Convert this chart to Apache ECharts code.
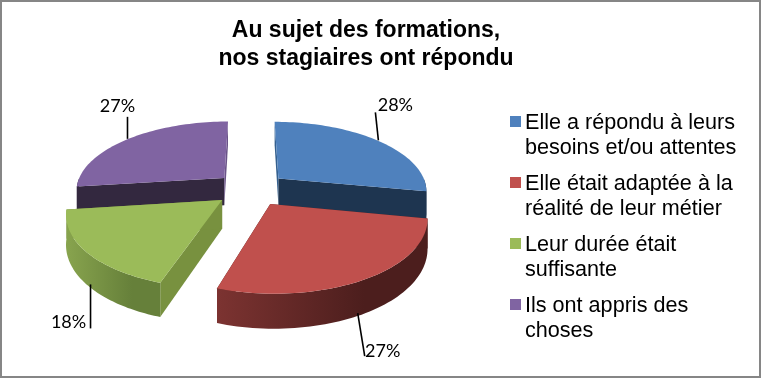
<!DOCTYPE html>
<html lang="fr">
<head>
    <meta charset="UTF-8">
    <title>Au sujet des formations</title>
    <script src="https://cdn.jsdelivr.net/npm/echarts@6/dist/echarts.min.js"></script>
    <style>
        html, body { margin: 0; padding: 0; background: #fff; }
        #chart { width: 761px; height: 378px; }
    </style>
</head>
<body>
<div id="chart"></div>
<script>
    var chartTitle = "Au sujet des formations,\nnos stagiaires ont répondu";
    var categories = [
        "Elle a répondu à leurs\nbesoins et/ou attentes",
        "Elle était adaptée à la\nréalité de leur métier",
        "Leur durée était\nsuffisante",
        "Ils ont appris des\nchoses"
    ];
    var values = [28, 27, 18, 27];

    var topColors = ["#4f81bd", "#c0504d", "#9bbb59", "#8064a2"];
    // cut faces of each slice: start edge, end edge
    var faceColors = [
        ["#34608f", "#1e3550"],
        ["#4e1f1e", "#4e1f1e"],
        ["#78913f", "#78913f"],
        ["#33283f", "#6a5388"]
    ];
    var wallColors = [
        ["#1e3550", "#1e3550"],
        ["#7c3331", "#4c1e1d"],
        ["#88a44e", "#66803a"],
        ["#33283f", "#33283f"]
    ];
    // back slices first, the front ones cover them
    var sliceZ = [2, 4, 3, 1];
    // leader line from the rim: start shift, then line vector
    var leaderStart = [[1, 0], [-8, 0], [4, 0], [-1, 0]];
    var leaderVec = [[-3, -28], [7, 43], [0, 44], [0, -22]];
    var labelShift = [[20, -7], [18, -5], [-22, -6], [-10, -11]];

    // 3d look: ground plane seen in perspective
    var view = { cx: 251, cy: 189, fx: 149, fy: 69.2, k: 0.165, depth: 28, explode: 0.245 };

    function project(wx, wz, down) {
        var s = 1 / (1 - view.k * wz);
        return [view.cx + view.fx * wx * s, view.cy + view.fy * wz * s + (down ? view.depth * s : 0)];
    }

    function sliceRange(i) {
        var total = values.reduce(function (a, b) { return a + b; }, 0);
        var before = values.slice(0, i).reduce(function (a, b) { return a + b; }, 0);
        return [before / total * Math.PI * 2, (before + values[i]) / total * Math.PI * 2];
    }

    function renderSlice(i) {
        var r = sliceRange(i);
        var mid = (r[0] + r[1]) / 2;
        var ox = view.explode * Math.sin(mid);
        var oz = -view.explode * Math.cos(mid);
        function rim(a, down) {
            return project(ox + Math.sin(a), oz - Math.cos(a), down);
        }
        var apexTop = project(ox, oz, false);
        var apexLow = project(ox, oz, true);
        var arcTop = [];
        for (var n = 0; n <= 60; n++) {
            arcTop.push(rim(r[0] + (r[1] - r[0]) * n / 60, false));
        }
        var children = [
            { type: "polygon", shape: { points: [apexTop, arcTop[0], rim(r[0], true), apexLow] }, style: { fill: faceColors[i][0] } },
            { type: "polygon", shape: { points: [apexTop, arcTop[60], rim(r[1], true), apexLow] }, style: { fill: faceColors[i][1] } }
        ];

        // outer wall only where the rim turns to the viewer
        var wa = Math.max(r[0], Math.PI / 2);
        var wb = Math.min(r[1], Math.PI * 1.5);
        if (wb > wa) {
            var wallTop = [], wallLow = [];
            for (var m = 0; m <= 60; m++) {
                var a = wa + (wb - wa) * m / 60;
                wallTop.push(rim(a, false));
                wallLow.push(rim(a, true));
            }
            var xs = wallLow.map(function (p) { return p[0]; });
            var wall = new echarts.graphic.LinearGradient(Math.min.apply(null, xs), 0, Math.max.apply(null, xs), 0, [
                { offset: 0, color: wallColors[i][0] },
                { offset: 0.7, color: wallColors[i][1] },
                { offset: 1, color: wallColors[i][1] }
            ], true);
            children.push({ type: "polygon", shape: { points: wallTop.concat(wallLow.reverse()) }, style: { fill: wall } });
        }
        children.push({ type: "polygon", shape: { points: [apexTop].concat(arcTop) }, style: { fill: topColors[i] } });

        // leader line starts on the rim at the middle of the slice
        var anchor = rim(mid, Math.cos(mid) < 0);
        var p0 = [anchor[0] + leaderStart[i][0], anchor[1] + leaderStart[i][1]];
        var p1 = [p0[0] + leaderVec[i][0], p0[1] + leaderVec[i][1]];
        children.push({ type: "line", shape: { x1: p0[0], y1: p0[1], x2: p1[0], y2: p1[1] }, style: { stroke: "#000", lineWidth: 1.6 } });
        children.push({
            type: "text",
            style: {
                x: p1[0] + labelShift[i][0],
                y: p1[1] + labelShift[i][1],
                text: values[i] + "%",
                fill: "#000",
                font: '18px Lato',
                align: "center",
                verticalAlign: "middle"
            }
        });
        return { type: "group", children: children };
    }

    var series = [];
    categories.forEach(function (name, i) {
        series.push({
            name: name,
            type: "custom",
            coordinateSystem: "none",
            z: sliceZ[i],
            silent: true,
            clip: false,
            itemStyle: { color: topColors[i] },
            data: [values[i]],
            renderItem: function () { return renderSlice(i); }
        });
    });

    var ct = echarts.init(document.getElementById("chart"), null, { renderer: "canvas" });
    ct.setOption({
        animation: false,
        backgroundColor: "#fff",
        color: topColors,
        title: {
            text: chartTitle,
            left: 366,
            top: 17,
            padding: 0,
            textAlign: "center",
            textStyle: {
                fontFamily: "Liberation Sans",
                fontSize: 23,
                fontWeight: "bold",
                color: "#000",
                lineHeight: 28
            }
        },
        legend: {
            orient: "vertical",
            left: 510,
            top: 111,
            padding: 0,
            itemGap: 11,
            itemWidth: 11,
            itemHeight: 40,
            icon: "path://M0 0H11V11H0Z M0 40h.01v.01h-.01z",
            selectedMode: false,
            textStyle: {
                fontFamily: "Liberation Sans",
                fontSize: 21.6,
                color: "#000",
                lineHeight: 25,
                padding: [0, 0, 0, -1]
            },
            data: categories
        },
        graphic: [{
            type: "rect",
            silent: true,
            z: 100,
            shape: { x: 1, y: 1, width: 759, height: 376 },
            style: { fill: null, stroke: "#868686", lineWidth: 2 }
        }],
        series: series
    });
</script>
</body>
</html>
